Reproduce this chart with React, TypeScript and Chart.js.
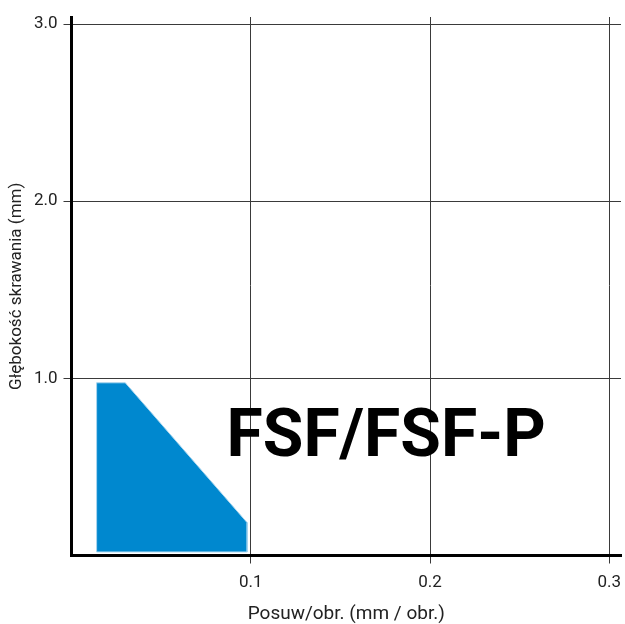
import React, { useEffect, useRef } from "react";
import { Chart, registerables } from "chart.js";

Chart.register(...registerables);

// Outline of the working region (feed vs depth of cut), in order, closed
const feedValues = [0.014, 0.03, 0.098, 0.098, 0.014, 0.014];
const depthValues = [0.975, 0.975, 0.185, 0.02, 0.02, 0.975];

const xTickValues = [0.1, 0.2, 0.3];
const yTickValues = [1, 2, 3];
const xTickLabels = ["0.1", "0.2", "0.3"];
const yTickLabels = ["1.0", "2.0", "3.0"];

const xTitle = "Posuw/obr. (mm / obr.)";
const yTitle = "Głębokość skrawania (mm)";
const gradeLabel = "FSF/FSF-P";

export default function App() {
  const canvasRef = useRef<HTMLCanvasElement | null>(null);

  useEffect(() => {
    if (!canvasRef.current) return;
    const labelPlugin = {
      id: "gradeLabel",
      afterDatasetsDraw(chart: any) {
        const { ctx, scales } = chart;
        ctx.save();
        ctx.font = "bold 66px Roboto";
        ctx.fillStyle = "#000";
        ctx.textAlign = "center";
        ctx.textBaseline = "middle";
        ctx.fillText(
          gradeLabel,
          scales.x.getPixelForValue(0.1755),
          scales.y.getPixelForValue(0.655)
        );
        ctx.restore();
      },
    };

    const chart = new Chart(canvasRef.current, {
      type: "scatter",
      data: {
        datasets: [
          {
            data: feedValues.map((x, i) => ({ x, y: depthValues[i] })),
            showLine: true,
            fill: "shape",
            backgroundColor: "#0088cf",
            borderColor: "#a9d6ef",
            borderWidth: 1,
            pointRadius: 0,
            tension: 0,
          } as any,
        ],
      },
      options: {
        animation: false,
        responsive: true,
        maintainAspectRatio: false,
        layout: { padding: { top: 17, right: 4, left: 0, bottom: 0 } },
        plugins: {
          legend: { display: false },
          tooltip: { enabled: false },
        },
        scales: {
          x: {
            type: "linear",
            min: 0,
            max: 0.3065,
            afterFit: (scale: any) => {
              scale.height = 68.5;
              scale.paddingLeft = 0;
              scale.paddingRight = 0;
            },
            afterBuildTicks: (scale: any) => {
              scale.ticks = xTickValues.map((v) => ({ value: v }));
            },
            ticks: {
              callback: (v: any) => {
                const i = xTickValues.indexOf(Number(v));
                return i >= 0 ? xTickLabels[i] : "";
              },
              color: "#222",
              font: { family: "Roboto", size: 17 },
              padding: 9,
              maxRotation: 0,
            },
            grid: { color: "#3a3a3a", lineWidth: 1, tickLength: 8 },
            border: { color: "#000", width: 3 },
            title: {
              display: true,
              text: xTitle,
              color: "#222",
              font: { family: "Roboto", size: 19, lineHeight: 1.05 },
              padding: { top: 0, bottom: 0 },
            },
          },
          y: {
            type: "linear",
            min: 0,
            max: 3.04,
            afterFit: (scale: any) => {
              scale.width = 71.5;
              scale.paddingTop = 0;
              scale.paddingBottom = 0;
            },
            afterBuildTicks: (scale: any) => {
              scale.ticks = yTickValues.map((v) => ({ value: v }));
            },
            ticks: {
              callback: (v: any) => {
                const i = yTickValues.indexOf(Number(v));
                return i >= 0 ? yTickLabels[i] : "";
              },
              color: "#222",
              font: { family: "Roboto", size: 17 },
              padding: 6,
            },
            grid: { color: "#3a3a3a", lineWidth: 1, tickLength: 8 },
            border: { color: "#000", width: 3 },
            title: {
              display: true,
              text: yTitle,
              color: "#222",
              font: { family: "Roboto", size: 17 },
              padding: { top: 7, bottom: 0 },
            },
          },
        },
      },
      plugins: [labelPlugin],
    });
    return () => chart.destroy();
  }, []);

  return (
    <div
      style={{
        position: "absolute",
        left: 0,
        top: 0,
        width: 625,
        height: 624,
        background: "#fff",
      }}
    >
      <canvas ref={canvasRef} />
    </div>
  );
}
